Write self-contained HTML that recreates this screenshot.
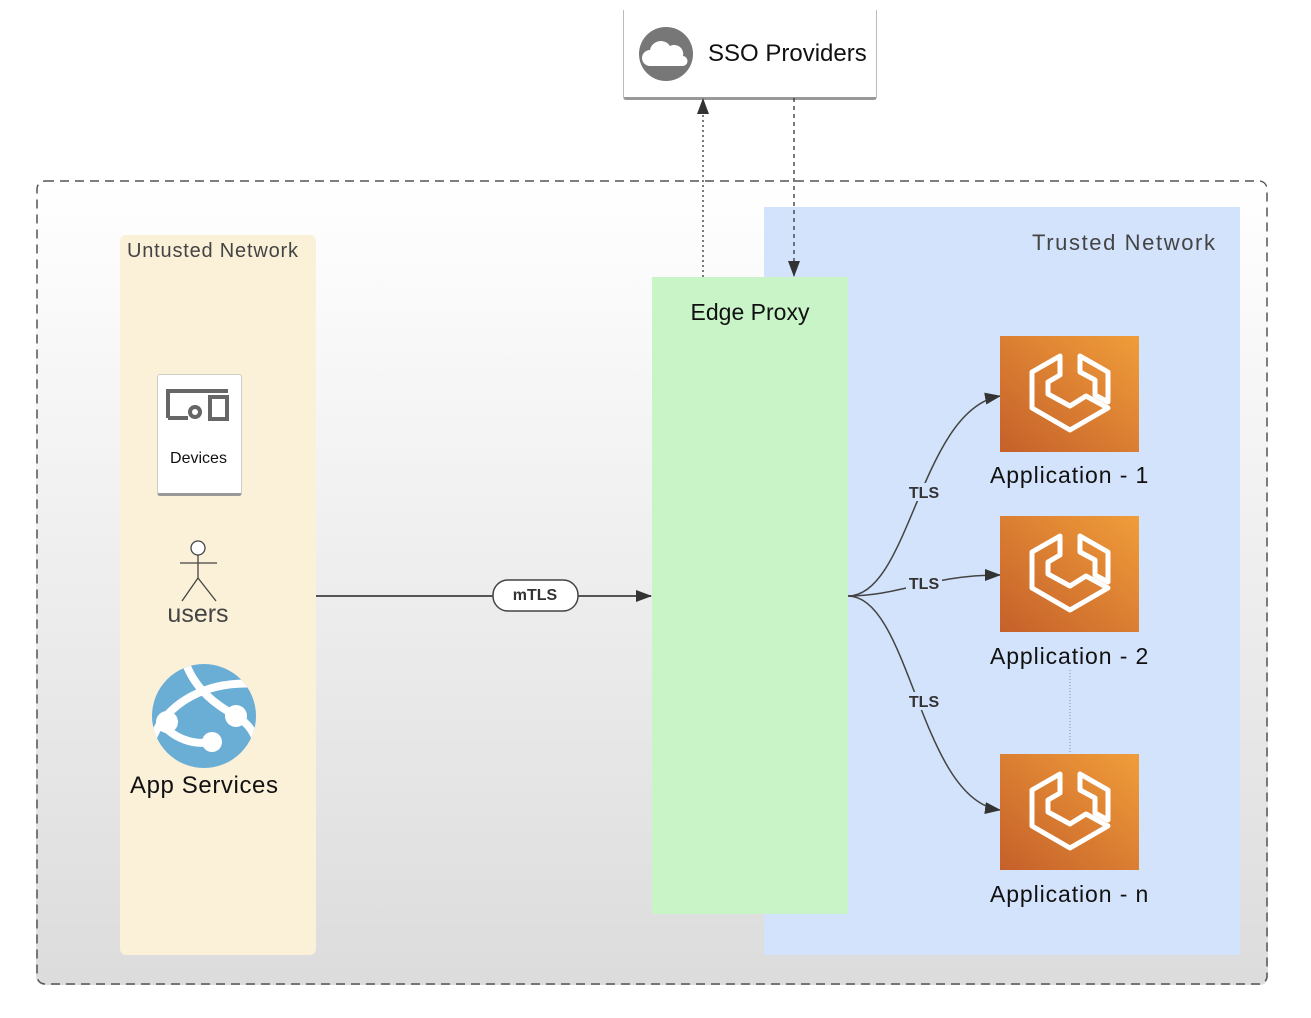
<!DOCTYPE html>
<html><head><meta charset="utf-8"><style>
body{margin:0;width:1311px;height:1018px;background:#fff;position:relative;overflow:hidden;font-family:"Liberation Sans",sans-serif}
.a{position:absolute}
</style></head><body>
<div class="a" style="left:36px;top:180px;width:1232px;height:805px;border-radius:8px;background:linear-gradient(#fff,#dcdcdc)"></div>
<div class="a" style="left:120px;top:235px;width:196px;height:720px;background:#fbf1d9;border-radius:6px"></div>
<div class="a" style="left:127px;top:240px;font-size:20px;color:#444;letter-spacing:0.8px">Untusted Network</div>
<div class="a" style="left:764px;top:207px;width:476px;height:748px;background:#d3e3fb"></div>
<div class="a" style="left:1032px;top:230px;font-size:22px;color:#444;letter-spacing:1.6px">Trusted Network</div>
<div class="a" style="left:652px;top:277px;width:196px;height:637px;background:#c8f4c8"></div>
<div class="a" style="left:652px;top:299px;width:196px;text-align:center;font-size:23px;color:#111">Edge Proxy</div>
<div class="a" style="left:623px;top:10px;width:252px;height:87px;background:#fff;border:1.5px solid #bbb;border-top:none;border-bottom:3px solid #999;border-radius:0 0 3px 3px"></div>
<div class="a" style="left:708px;top:40px;font-size:24px;color:#111">SSO Providers</div>
<div class="a" style="left:157px;top:374px;width:83px;height:118px;background:#fff;border:1px solid #ccc;border-bottom:3px solid #999;border-radius:3px"></div>
<div class="a" style="left:157px;top:450px;width:83px;text-align:center;font-size:16px;color:#111">Devices</div>
<div class="a" style="left:128px;top:600px;width:140px;text-align:center;font-size:25px;color:#444">users</div>
<div class="a" style="left:130px;top:772px;font-size:24px;color:#111;letter-spacing:0.6px">App Services</div>
<div class="a" style="left:990px;top:462px;font-size:23px;color:#111;letter-spacing:0.9px">Application - 1</div>
<div class="a" style="left:990px;top:643px;font-size:23px;color:#111;letter-spacing:0.9px">Application - 2</div>
<div class="a" style="left:990px;top:881px;font-size:23px;color:#111;letter-spacing:0.9px">Application - n</div>
<svg class="a" style="left:0;top:0" width="1311" height="1018">
<defs>
<marker id="m" markerWidth="16" markerHeight="12" refX="15" refY="6" orient="auto" markerUnits="userSpaceOnUse"><path d="M0,0L16,6L0,12z" fill="#333"/></marker>
<linearGradient id="g" x1="0" y1="1" x2="1" y2="0"><stop offset="0" stop-color="#c5602a"/><stop offset="1" stop-color="#f09d3a"/></linearGradient>
<g id="ecs"><rect width="139" height="116" fill="url(#g)"/>
<path d="M60,20 L32,36 L32,72 L70,94 L108,72 L86,60 L70,70 L48,58 L48,46 L60,39Z M80,20 L108,36 L108,66 L95,59 L95,44 L80,36Z" fill="none" stroke="#fff" stroke-width="5" stroke-linejoin="round"/></g>
</defs>
<rect x="37" y="181" width="1230" height="803" rx="8" fill="none" stroke="#555" stroke-width="1.5" stroke-dasharray="9,6"/>
<circle cx="666" cy="54" r="27" fill="#777"/>
<path d="M650,66 a8,8 0 0 1 0,-16 a11,11 0 0 1 20,-4 a9,9 0 0 1 13,10 a5,5 0 0 1 -1,10z" fill="#fff"/>
<line x1="703" y1="277" x2="703" y2="99" stroke="#333" stroke-width="1.3" stroke-dasharray="2,3" marker-end="url(#m)"/>
<line x1="794" y1="98" x2="794" y2="276" stroke="#333" stroke-width="1.3" stroke-dasharray="4,4" marker-end="url(#m)"/>
<line x1="316" y1="596" x2="651" y2="596" stroke="#555" stroke-width="2" marker-end="url(#m)"/>
<rect x="493" y="580" width="85" height="31" rx="15" fill="#fff" stroke="#444" stroke-width="1.5"/>
<text x="535" y="600" text-anchor="middle" font-size="16" font-weight="bold" fill="#333">mTLS</text>
<path d="M848,596 C910,596 920,410 1000,396" fill="none" stroke="#444" stroke-width="1.5" marker-end="url(#m)"/>
<path d="M848,596 C900,596 930,575 1000,575" fill="none" stroke="#444" stroke-width="1.5" marker-end="url(#m)"/>
<path d="M848,596 C910,596 920,800 1000,810" fill="none" stroke="#444" stroke-width="1.5" marker-end="url(#m)"/>
<g font-size="16" font-weight="bold" fill="#333" text-anchor="middle">
<rect x="906" y="483" width="36" height="18" fill="#d3e3fb"/><text x="924" y="498">TLS</text>
<rect x="906" y="574" width="36" height="18" fill="#d3e3fb"/><text x="924" y="589">TLS</text>
<rect x="906" y="692" width="36" height="18" fill="#d3e3fb"/><text x="924" y="707">TLS</text></g>
<line x1="1070" y1="670" x2="1070" y2="755" stroke="#888" stroke-dasharray="1,2"/>
<use href="#ecs" x="1000" y="336"/><use href="#ecs" x="1000" y="516"/><use href="#ecs" x="1000" y="754"/>
<g fill="none" stroke="#666" stroke-width="4"><path d="M168,418 V391 H228"/><rect x="210" y="397" width="17" height="22"/><circle cx="195" cy="412" r="5"/><path d="M168,418 H188"/></g>
<g stroke="#444" stroke-width="1.3" fill="none"><circle cx="198" cy="548" r="7" fill="#fff"/><path d="M198,555 V578 M180,563 H217 M198,578 L182,601 M198,578 L216,601"/></g>
<clipPath id="cp"><circle cx="204" cy="716" r="52"/></clipPath>
<circle cx="204" cy="716" r="52" fill="#6aaed6"/>
<g clip-path="url(#cp)" stroke="#fff" stroke-width="8" fill="none" stroke-linecap="round"><path d="M186,664 C196,690 216,705 236,716 C250,724 255,735 258,745"/><path d="M150,745 C165,700 210,680 258,684"/><path d="M160,722 C175,740 195,745 210,742"/></g>
<g fill="#fff"><circle cx="167" cy="722" r="11"/><circle cx="236" cy="716" r="11"/><circle cx="212" cy="742" r="10"/></g>
</svg>
</body></html>
